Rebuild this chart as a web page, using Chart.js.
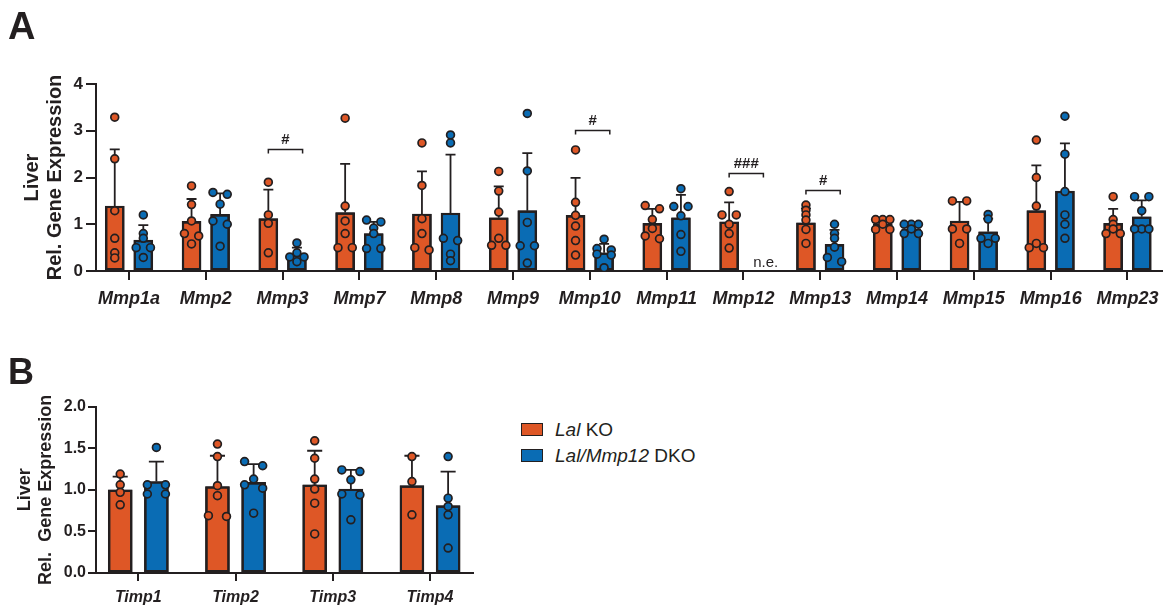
<!DOCTYPE html>
<html>
<head>
<meta charset="utf-8">
<script src="https://cdn.jsdelivr.net/npm/chart.js@4.4.1/dist/chart.umd.min.js"></script>
<style>
  body { margin: 0; background: #fff; font-family: "Liberation Sans", Arial, sans-serif; color: #231f20; }
  #page { position: relative; width: 1168px; height: 608px; overflow: hidden; }
  canvas { position: absolute; left: 0; }
  #chartA { top: 0; }
  #chartB { top: 330px; }
  .panel { position: absolute; left: 8px; font-weight: bold; line-height: 1; }
  .key { position: absolute; left: 521px; width: 22px; height: 13px; box-sizing: border-box; border: 1.5px solid #231f20; }
  .keyText { position: absolute; left: 555px; font-size: 19px; line-height: 19px; white-space: nowrap; }
</style>
</head>
<body>
<div id="page">
  <canvas id="chartA" width="1168" height="330"></canvas>
  <canvas id="chartB" width="490" height="278"></canvas>
  <div class="panel" style="top:6.7px; font-size:38px;">A</div>
  <div class="panel" style="top:353.6px; font-size:36px;">B</div>
  <div class="key" style="top:423px; background:#de5726;"></div>
  <div class="keyText" style="top:419.5px;"><i>Lal</i> KO</div>
  <div class="key" style="top:448.5px; background:#0a6cb4;"></div>
  <div class="keyText" style="top:445.7px;"><i>Lal/Mmp12</i> DKO</div>
</div>
<script>
"use strict";

// ---- panel A : Mmp genes ----
const genesA = ['Mmp1a', 'Mmp2', 'Mmp3', 'Mmp7', 'Mmp8', 'Mmp9', 'Mmp10', 'Mmp11', 'Mmp12', 'Mmp13', 'Mmp14', 'Mmp15', 'Mmp16', 'Mmp23'];
const ticksA = [0, 1, 2, 3, 4];
const koMeanA  = [1.39, 1.06, 1.12, 1.25, 1.22, 1.14, 1.19, 1.02, 1.05, 1.03, 1.00, 1.07, 1.29, 1.02];
const koSdA    = [1.21, 0.48, 0.62, 1.04, 0.91, 0.67, 0.80, 0.31, 0.42, 0.31, 0.09, 0.41, 0.97, 0.31];
const dkoMeanA = [0.66, 1.21, 0.36, 0.80, 1.24, 1.29, 0.39, 1.14, null, 0.57, 0.90, 0.84, 1.71, 1.16];
const dkoSdA   = [0.32, 0.45, 0.14, 0.25, 1.25, 1.23, 0.19, 0.49, null, 0.31, 0.10, 0.28, 1.02, 0.35];
const koPtsA = [
    [3.29, 2.40, 1.29, 0.70, 0.39, 0.28],
    [1.82, 1.42, 1.07, 0.80, 0.75, 0.58],
    [1.90, 1.20, 1.02, 0.39],
    [3.27, 1.39, 1.07, 0.80, 0.50, 0.50],
    [2.74, 1.83, 1.12, 0.80, 0.50, 0.45],
    [2.13, 1.71, 1.26, 0.70, 0.55, 0.55],
    [2.59, 1.47, 1.19, 0.96, 0.65, 0.34],
    [1.40, 1.33, 1.10, 0.91, 0.75, 0.69],
    [1.70, 1.20, 1.20, 1.00, 0.80, 0.49],
    [1.41, 1.30, 1.20, 1.09, 0.89, 0.59],
    [1.10, 1.10, 1.10, 1.00, 0.89, 0.89],
    [1.50, 1.50, 0.90, 0.90, 0.59],
    [2.80, 2.00, 1.39, 0.59, 0.50, 0.50],
    [1.59, 1.10, 1.00, 0.90, 0.80, 0.80],
];
const dkoPtsA = [
    [1.20, 0.80, 0.70, 0.50, 0.50, 0.29],
    [1.68, 1.64, 1.43, 1.07, 1.00, 0.53],
    [0.60, 0.39, 0.30, 0.30, 0.20],
    [1.09, 1.05, 0.92, 0.80, 0.48, 0.48],
    [2.91, 2.74, 0.70, 0.65, 0.36, 0.22],
    [3.37, 2.14, 1.04, 0.54, 0.54, 0.17],
    [0.68, 0.48, 0.45, 0.36, 0.34, 0.07],
    [1.76, 1.38, 1.38, 1.18, 0.78, 0.42],
    [],
    [1.00, 0.80, 0.70, 0.51, 0.29, 0.20],
    [1.00, 1.00, 1.00, 0.90, 0.80, 0.80],
    [1.21, 1.11, 0.70, 0.70, 0.59],
    [3.31, 2.50, 1.70, 1.20, 1.00, 0.70],
    [1.59, 1.59, 1.29, 0.90, 0.90, 0.90],
];
const sigGenesA  = ['Mmp3', 'Mmp10', 'Mmp12', 'Mmp13'];
const sigLevelsA = [2.60, 3.02, 2.10, 1.74];
const sigLabelsA = ['#', '#', '###', '#'];
const notExpressedA = ['Mmp12'];

// ---- panel B : Timp genes ----
const genesB = ['Timp1', 'Timp2', 'Timp3', 'Timp4'];
const ticksB = [0, 0.5, 1, 1.5, 2];
const koMeanB  = [1.00, 1.04, 1.06, 1.05];
const koSdB    = [0.16, 0.37, 0.41, 0.36];
const dkoMeanB = [1.10, 1.09, 1.01, 0.81];
const dkoSdB   = [0.24, 0.22, 0.23, 0.41];
const koPtsB = [
    [1.19, 1.06, 0.97, 0.82],
    [1.55, 1.40, 1.05, 0.93, 0.69, 0.68],
    [1.59, 1.38, 1.13, 1.01, 0.84, 0.47],
    [1.40, 1.10, 0.70],
];
const dkoPtsB = [
    [1.51, 1.06, 1.06, 0.95, 0.95],
    [1.34, 1.29, 1.13, 1.06, 1.02, 0.72],
    [1.24, 1.22, 1.12, 0.95, 0.94, 0.64],
    [1.40, 0.90, 0.80, 0.70, 0.30],
];

const ORANGE = '#de5726';
const BLUE = '#0a6cb4';
const INK = '#231f20';
const FONT = '"Liberation Sans", Arial, sans-serif';
const SHIFT = 0.186;   // half distance between the two bars of a gene
const STEP = 0.093;    // sideways spread of overlapping dots

/**
 * simple swarm: dots of nearly the same value share a row and get spread sideways
 */
function swarm(vals, tol) {
    const order = vals.map((v, k) => k).sort((a, b) => vals[b] - vals[a]);
    const dx = new Array(vals.length).fill(0);
    let row = [];
    const flush = () => {
        const slots = row.length % 2 ? [0, -1, 1, -2, 2] : [-1, 1, -2, 2];
        row.forEach((k, j) => dx[k] = slots[j] * STEP);
        row = [];
    };
    order.forEach(k => {
        if (row.length && vals[row[0]] - vals[k] > tol) flush();
        row.push(k);
    });
    flush();
    return dx;
}

function barSet(means, shift, color, width) {
    return {
        type: 'bar',
        order: 2,
        data: means.map((m, i) => ({x: i + shift, y: m})).filter(d => d.y != null),
        backgroundColor: color,
        borderColor: INK,
        borderWidth: 2.4,
        borderSkipped: false,
        barThickness: width,
        grouped: false,
    };
}

function dotSet(pts, shift, color, tol) {
    const data = [];
    pts.forEach((vals, i) => {
        const dx = swarm(vals, tol);
        vals.forEach((v, k) => data.push({x: i + shift + dx[k], y: v}));
    });
    return {
        type: 'scatter',
        order: 1,
        data: data,
        backgroundColor: color,
        borderColor: INK,
        borderWidth: 1.7,
        pointRadius: 3.9,
    };
}

// error bars (mean + SD, upward only), bar outlines, significance brackets, n.e. labels
function makeMarks(cfg) {
    return {
        id: 'marks',
        beforeDatasetsDraw(chart) {
            const {ctx, scales: {x, y}} = chart;
            const half = (x.getPixelForValue(cfg.cap) - x.getPixelForValue(0)) / 2;
            ctx.save();
            ctx.strokeStyle = INK;
            ctx.lineWidth = 1.8;
            cfg.groups.forEach(g => {
                g.means.forEach((m, i) => {
                    if (m == null) return;
                    const px = x.getPixelForValue(i + g.shift);
                    const y0 = y.getPixelForValue(m);
                    const y1 = y.getPixelForValue(m + g.sd[i]);
                    ctx.beginPath();
                    ctx.moveTo(px, y0);
                    ctx.lineTo(px, y1);
                    ctx.moveTo(px - half, y1);
                    ctx.lineTo(px + half, y1);
                    ctx.stroke();
                });
            });
            ctx.restore();
        },
        afterDatasetDraw(chart, args) {
            // dark frame round each bar, taken from the bar elements themselves
            if (args.meta.type !== 'bar') return;
            const {ctx} = chart;
            ctx.save();
            ctx.strokeStyle = INK;
            ctx.lineWidth = 2;
            args.meta.data.forEach(bar => {
                const p = bar.getProps(['x', 'y', 'base', 'width']);
                ctx.strokeRect(p.x - p.width / 2 + 1, p.y + 1, p.width - 2, p.base - p.y - 1);
            });
            ctx.restore();
        },
        afterDatasetsDraw(chart) {
            const {ctx, scales: {x, y}} = chart;
            ctx.save();
            ctx.strokeStyle = INK;
            ctx.fillStyle = INK;
            ctx.lineWidth = 1.5;
            ctx.textAlign = 'center';
            ctx.textBaseline = 'middle';
            ctx.font = 'bold 15px ' + FONT;
            cfg.sigGenes.forEach((gene, k) => {
                const i = cfg.genes.indexOf(gene);
                const x0 = x.getPixelForValue(i - SHIFT);
                const x1 = x.getPixelForValue(i + 0.26);
                const yy = Math.round(y.getPixelForValue(cfg.sigLevels[k])) + 0.5;
                ctx.beginPath();
                ctx.moveTo(x0, yy + 4);
                ctx.lineTo(x0, yy);
                ctx.lineTo(x1, yy);
                ctx.lineTo(x1, yy + 4);
                ctx.stroke();
                ctx.fillText(cfg.sigLabels[k], (x0 + x1) / 2, yy - 10);
            });
            ctx.font = '15px ' + FONT;
            cfg.notExpressed.forEach(gene => {
                const i = cfg.genes.indexOf(gene);
                ctx.fillText('n.e.', x.getPixelForValue(i + SHIFT) + 8, y.getPixelForValue(0) - 8);
            });
            ctx.restore();
        }
    };
}

function createPanel(id, cfg) {
    const ctx = document.getElementById(id).getContext('2d');
    return new Chart(ctx, {
        type: 'bar',
        data: {
            datasets: [
                barSet(cfg.koMean, -SHIFT, ORANGE, cfg.barWidth),
                barSet(cfg.dkoMean, SHIFT, BLUE, cfg.barWidth),
                dotSet(cfg.koPts, -SHIFT, ORANGE, cfg.tol),
                dotSet(cfg.dkoPts, SHIFT, BLUE, cfg.tol),
            ]
        },
        options: {
            responsive: false,
            animation: false,
            events: [],
            layout: {padding: cfg.pad},
            plugins: {
                legend: {display: false},
                tooltip: {enabled: false},
            },
            scales: {
                x: {
                    type: 'linear',
                    min: cfg.xMin,
                    max: cfg.xMax,
                    offset: false,
                    afterBuildTicks: s => { s.ticks = cfg.genes.map((g, i) => ({value: i})); },
                    afterFit: s => { s.height = cfg.xHeight; },
                    ticks: {
                        callback: v => cfg.genes[v],
                        autoSkip: false,
                        maxRotation: 0,
                        color: INK,
                        padding: cfg.xPad,
                        font: {family: FONT, size: cfg.xFont, weight: 'bold', style: 'italic'},
                    },
                    grid: {
                        offset: false,
                        drawOnChartArea: false,
                        color: INK,
                        lineWidth: 2,
                        tickLength: cfg.xTick,
                    },
                    border: {color: INK, width: 2},
                },
                y: {
                    type: 'linear',
                    min: cfg.yTicks[0],
                    max: cfg.yTicks[cfg.yTicks.length - 1],
                    afterBuildTicks: s => { s.ticks = cfg.yTicks.map(v => ({value: v})); },
                    afterFit: s => { s.width = 96; },
                    ticks: {
                        callback: cfg.yLabel,
                        color: INK,
                        padding: cfg.yPad,
                        font: {family: FONT, size: cfg.yFont, weight: 'bold'},
                    },
                    grid: {
                        drawOnChartArea: false,
                        color: INK,
                        lineWidth: 2,
                        tickLength: cfg.yTick,
                    },
                    border: {color: INK, width: 2},
                    title: {
                        display: true,
                        text: cfg.title,
                        color: INK,
                        font: {family: FONT, size: cfg.titleFont, weight: 'bold', lineHeight: cfg.titleLine},
                        padding: {top: cfg.titlePad, bottom: 0},
                    },
                },
            },
        },
        plugins: [makeMarks(cfg)],
    });
}

createPanel('chartA', {
    genes: genesA, koMean: koMeanA, dkoMean: dkoMeanA, koPts: koPtsA, dkoPts: dkoPtsA,
    groups: [{means: koMeanA, sd: koSdA, shift: -SHIFT}, {means: dkoMeanA, sd: dkoSdA, shift: SHIFT}],
    sigGenes: sigGenesA, sigLevels: sigLevelsA, sigLabels: sigLabelsA, notExpressed: notExpressedA,
    yTicks: ticksA, yLabel: v => v,
    title: ['Liver', 'Rel. Gene Expression'], titleFont: 20, titleLine: 1.15, titlePad: 21,
    pad: {left: 0, top: 84, right: 6, bottom: 14},
    xMin: -0.43, xMax: 13.45, xHeight: 45, xPad: 8, xTick: 9, xFont: 18,
    yPad: 3, yTick: 10, yFont: 17,
    barWidth: 19, cap: 0.13, tol: 0.09,
});

createPanel('chartB', {
    genes: genesB, koMean: koMeanB, dkoMean: dkoMeanB, koPts: koPtsB, dkoPts: dkoPtsB,
    groups: [{means: koMeanB, sd: koSdB, shift: -SHIFT}, {means: dkoMeanB, sd: dkoSdB, shift: SHIFT}],
    sigGenes: [], sigLevels: [], sigLabels: [], notExpressed: [],
    yTicks: ticksB, yLabel: v => v.toFixed(1),
    title: ['Liver', 'Rel.  Gene Expression'], titleFont: 18, titleLine: 1.2, titlePad: 14,
    pad: {left: 0, top: 76.7, right: 16.7, bottom: 1},
    xMin: -0.435, xMax: 3.445, xHeight: 34, xPad: 7.4, xTick: 8, xFont: 16,
    yPad: 2, yTick: 8, yFont: 16,
    barWidth: 24, cap: 0.155, tol: 0.06,
});
</script>
</body>
</html>
